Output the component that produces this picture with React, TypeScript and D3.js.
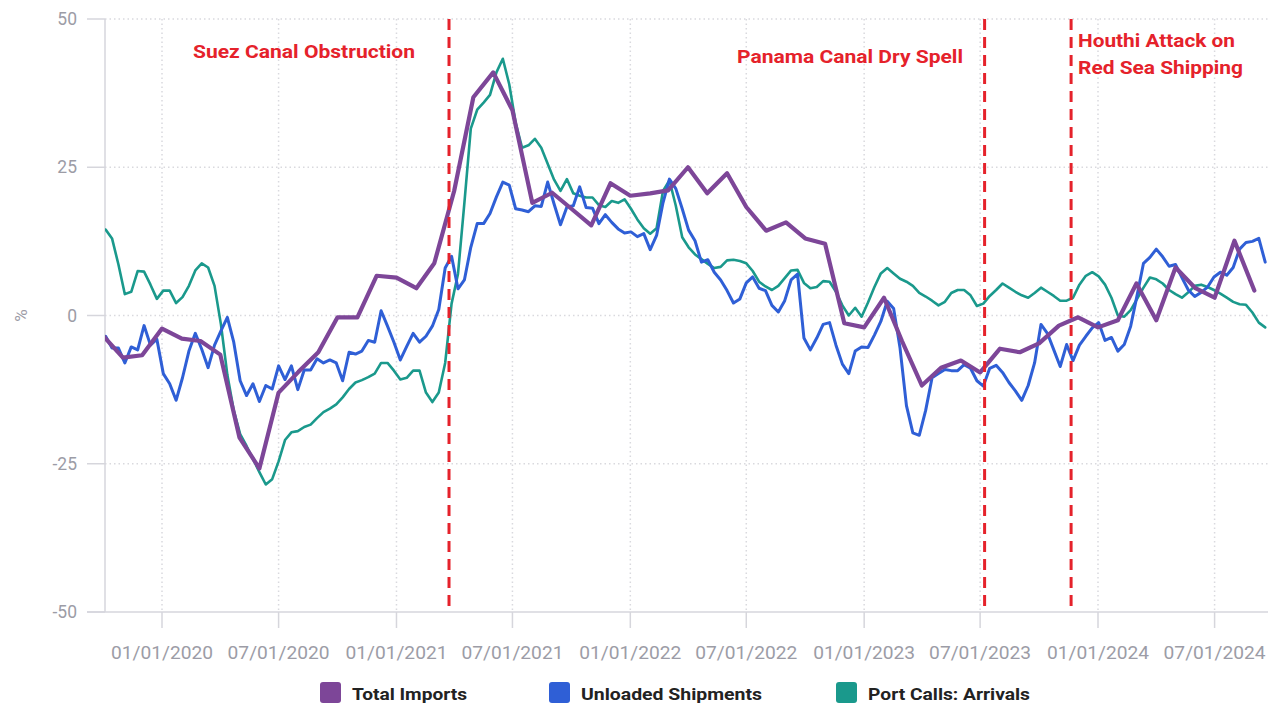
import React from "react";
import * as d3 from "d3";

// ---------- data ----------
const seriesNames = ["Total Imports", "Unloaded Shipments", "Port Calls: Arrivals"];
const seriesColors = ["#7d4698", "#2f5fd6", "#1a998c"];

// Total Imports: monthly values starting Oct 2019
const importsStart = "2019-10-01";
const totalImports = [
  -3.4, -7.1, -6.7,
  -2.2, -3.9, -4.3, -6.6, -20.6, -25.8, -13, -9.5, -6.2, -0.3, -0.3, 6.7,
  6.4, 4.6, 8.8, 21, 36.8, 41, 34.6, 19, 20.7, 18, 15.2, 22.3,
  20.2, 20.6, 21.1, 25, 20.6, 24, 18.3, 14.3, 15.7, 13, 12.1, -1.3,
  -2, 3, -4.3, -11.8, -8.8, -7.6, -9.6, -5.6, -6.2, -4.7, -1.7, -0.3,
  -2, -0.8, 5.4, -0.8, 8.1, 4.6, 3, 12.6, 4.2,
];

// Unloaded Shipments and Port Calls: every 10 days starting 5 Oct 2019
const dailyStart = "2019-10-05";
const dailyStepDays = 10;
const unloadedShipments = [
  -3.5, -5.5, -5.5, -8, -5.3, -5.8, -1.7, -5, -4, -9.8,
  -11.5, -14.3, -10.5, -6, -3, -5.7, -8.8, -5, -2.6, -0.3,
  -4.5, -11, -13.5, -11.5, -14.5, -11.8, -12.4, -8.5, -10.8, -8.5,
  -12.5, -9.2, -9.2, -7.3, -8, -7.5, -8, -11, -6.2, -6.5,
  -6, -4.2, -4.5, 0.8, -1.8, -4.5, -7.5, -5.2, -3, -4.5,
  -3.5, -1.8, 1, 8, 10, 4.5, 6, 11.5, 15.5, 15.5,
  17.2, 20, 22.5, 22, 18, 17.8, 17.5, 18.5, 18.4, 22.5,
  18.8, 15.3, 18.3, 18.5, 21.7, 18.2, 18.1, 15.5, 17, 15.7,
  14.6, 13.9, 14.1, 13.3, 13.8, 11.1, 13.5, 19, 23, 21.4,
  18, 14.4, 12.6, 9, 9.4, 7.3, 6, 4.2, 2.1, 2.8,
  5.5, 6.5, 4.6, 4.2, 1.7, 0.6, 2.5, 6, 7, -3.8,
  -5.8, -3.8, -1.5, -1.2, -5, -8.2, -9.8, -6, -5.3, -5.4,
  -3.3, -1, 2.4, 1.2, -5.5, -15.2, -19.8, -20.2, -16, -10.5,
  -9.8, -9.1, -9.3, -9.3, -8.3, -8.9, -11, -11.9, -8.9, -8.4,
  -9.6, -11.3, -12.7, -14.3, -11.8, -8, -1.5, -3, -5.8, -8.6,
  -4.9, -7.6, -5, -3.5, -2.1, -1.2, -4.2, -3.7, -6, -4.9,
  -1.8, 3.4, 8.8, 9.8, 11.2, 9.9, 8.3, 8.6, 6.4, 4.3,
  3.2, 3.9, 4.8, 6.5, 7.3, 6.8, 8.1, 11.2, 12.3, 12.5,
  13, 9,
];
const portCallsArrivals = [
  14.5, 13, 8.6, 3.6, 4, 7.5, 7.4, 5.2, 2.8, 4.2,
  4.2, 2.1, 3.1, 5, 7.6, 8.8, 8.1, 5, -1.5, -10,
  -16, -20, -22, -24.2, -26.4, -28.5, -27.6, -24.6, -21, -19.7,
  -19.5, -18.8, -18.4, -17.3, -16.3, -15.7, -15, -13.8, -12.4, -11.3,
  -10.9, -10.4, -9.8, -8, -8, -9.3, -10.8, -10.5, -9.3, -9.3,
  -13, -14.6, -13, -8, 2, 7, 19, 31.5, 34.7, 35.9,
  37.2, 41, 43.3, 39, 32.5, 28.3, 28.7, 29.8, 28.3, 25.6,
  22.9, 21, 23, 20.6, 20.2, 19.9, 19.9, 18.6, 18.3, 19.3,
  19, 19.6, 18, 16.2, 14.7, 13.8, 14.7, 21, 22.8, 18.5,
  13.2, 11.5, 10.3, 9.5, 8.7, 8, 8.2, 9.3, 9.4, 9.2,
  8.8, 7.5, 5.7, 4.9, 4.3, 5, 6.3, 7.6, 7.7, 5.5,
  4.6, 4.8, 5.8, 5.7, 4, 1.7, 0, 1.3, -0.2, 2.2,
  4.8, 7.1, 8, 7.1, 6.2, 5.7, 5, 3.8, 3.2, 2.5,
  1.7, 2.3, 3.8, 4.3, 4.3, 3.4, 1.6, 2, 3.3, 4.3,
  5.4, 4.7, 4, 3.4, 3, 3.8, 4.7, 4, 3.3, 2.5,
  2.5, 3, 5.2, 6.7, 7.3, 6.6, 5.2, 3, 0, -0.2,
  0.9, 2.8, 4.7, 6.4, 6.1, 5.4, 4.3, 3.6, 3, 3.9,
  5, 5.2, 4.8, 4.3, 3.7, 3, 2.3, 1.9, 1.8, 0.5,
  -1.2, -2,
];

const eventDates = ["2021-03-24", "2023-07-08", "2023-11-20"];
const eventLabels = [["Suez Canal Obstruction"], ["Panama Canal Dry Spell"], ["Houthi Attack on", "Red Sea Shipping"]];

const xTickDates = [
  "2020-01-01", "2020-07-01", "2021-01-01", "2021-07-01", "2022-01-01",
  "2022-07-01", "2023-01-01", "2023-07-01", "2024-01-01", "2024-07-01",
];
const yTicks = [-50, -25, 0, 25, 50];
const yLabel = "%";

// ---------- layout ----------
const W = 1268;
const H = 704;
const plotLeft = 105;
const plotTop = 19;
const plotBottom = 612;
const plotRight = W;
const red = "#e5222b";
const gridColor = "#d9d9de";
const axisTextColor = "#9c9ca6";

const parse = (s: string) => d3.utcParse("%Y-%m-%d")(s) as Date;

export default function App() {
  const x = d3
    .scaleUtc()
    .domain([parse("2020-01-01"), parse("2024-01-01")])
    .range([162, 1098]);
  const y = d3.scaleLinear().domain([-50, 50]).range([plotBottom, plotTop]);
  const fmt = d3.utcFormat("%m/%d/%Y");

  const impStart = parse(importsStart);
  const impData = totalImports.map((v, i) => ({ d: d3.utcMonth.offset(impStart, i), v }));
  const dStart = parse(dailyStart);
  const unlData = unloadedShipments.map((v, i) => ({ d: d3.utcDay.offset(dStart, i * dailyStepDays), v }));
  const portData = portCallsArrivals.map((v, i) => ({ d: d3.utcDay.offset(dStart, i * dailyStepDays), v }));

  const line = d3
    .line<{ d: Date; v: number }>()
    .x((p) => x(p.d))
    .y((p) => y(p.v));

  const legendX = [320, 549, 836];
  const legendTextW = [115, 181, 162];

  // annotation placement (left x, baseline y, width)
  const annX = [193, 737, 1078];
  const annY = [58, 63, 47];
  const annW = [[222], [226], [157, 165]];

  return (
    <svg
      width={W}
      height={H}
      style={{ position: "absolute", left: 0, top: 0, background: "#fff" }}
      fontFamily="Roboto, 'Noto Sans', sans-serif"
    >
      <defs>
        <clipPath id="plotClip">
          <rect x={plotLeft} y={0} width={plotRight - plotLeft} height={plotBottom} />
        </clipPath>
      </defs>

      {/* horizontal grid */}
      {yTicks.filter((t) => t !== -50).map((t) => (
        <line
          key={"hg" + t}
          x1={plotLeft}
          x2={plotRight}
          y1={y(t)}
          y2={y(t)}
          stroke={gridColor}
          strokeWidth={1.5}
          strokeDasharray="1.5,3"
        />
      ))}
      {/* vertical grid */}
      {xTickDates.map((s) => (
        <line
          key={"vg" + s}
          x1={x(parse(s))}
          x2={x(parse(s))}
          y1={plotTop}
          y2={plotBottom}
          stroke={gridColor}
          strokeWidth={1.5}
          strokeDasharray="1.5,3"
        />
      ))}

      {/* axes */}
      <line x1={plotLeft} x2={plotLeft} y1={plotTop} y2={plotBottom} stroke="#d6d6dc" strokeWidth={1.5} />
      <line x1={87} x2={plotRight} y1={plotBottom} y2={plotBottom} stroke="#d6d6dc" strokeWidth={1.5} />
      {yTicks.map((t) => (
        <g key={"yt" + t}>
          <line x1={87} x2={plotLeft} y1={y(t)} y2={y(t)} stroke="#d6d6dc" strokeWidth={1.5} />
          <text x={77} y={y(t)} dy="0.35em" textAnchor="end" fontSize={17.5} fill={axisTextColor}>
            {t}
          </text>
        </g>
      ))}
      {xTickDates.map((s) => (
        <g key={"xt" + s}>
          <line
            x1={x(parse(s))}
            x2={x(parse(s))}
            y1={plotBottom}
            y2={plotBottom + 16}
            stroke="#d6d6dc"
            strokeWidth={1.5}
          />
          <text
            x={x(parse(s))}
            y={659}
            textAnchor="middle"
            fontSize={18.5}
            fill={axisTextColor}
            textLength={102}
            lengthAdjust="spacingAndGlyphs"
          >
            {fmt(parse(s))}
          </text>
        </g>
      ))}
      <text
        transform={`translate(27,${y(0)}) rotate(-90)`}
        textAnchor="middle"
        fontSize={17}
        fill={axisTextColor}
      >
        {yLabel}
      </text>

      {/* series */}
      <g clipPath="url(#plotClip)" fill="none" strokeLinejoin="round" strokeLinecap="round">
        <path d={line(portData) || ""} stroke={seriesColors[2]} strokeWidth={2.6} />
        <path d={line(unlData) || ""} stroke={seriesColors[1]} strokeWidth={3} />
        <path d={line(impData) || ""} stroke={seriesColors[0]} strokeWidth={4.2} />
      </g>

      {/* events */}
      {eventDates.map((s) => (
        <line
          key={"ev" + s}
          x1={x(parse(s))}
          x2={x(parse(s))}
          y1={plotTop}
          y2={plotBottom}
          stroke={red}
          strokeWidth={3}
          strokeDasharray="11,7"
        />
      ))}
      {eventLabels.map((lines, k) =>
        lines.map((t, i) => (
          <text
            key={t}
            x={annX[k]}
            y={annY[k] + i * 27}
            fontSize={19}
            fontWeight="bold"
            fill={red}
            textLength={annW[k][i]}
            lengthAdjust="spacingAndGlyphs"
          >
            {t}
          </text>
        ))
      )}

      {/* legend */}
      {seriesNames.map((n, i) => (
        <g key={n}>
          <rect x={legendX[i]} y={682} width={21} height={21} rx={3} fill={seriesColors[i]} />
          <text
            x={legendX[i] + 32}
            y={700}
            fontSize={17}
            fontWeight="bold"
            fill="#222"
            textLength={legendTextW[i]}
            lengthAdjust="spacingAndGlyphs"
          >
            {n}
          </text>
        </g>
      ))}
    </svg>
  );
}
